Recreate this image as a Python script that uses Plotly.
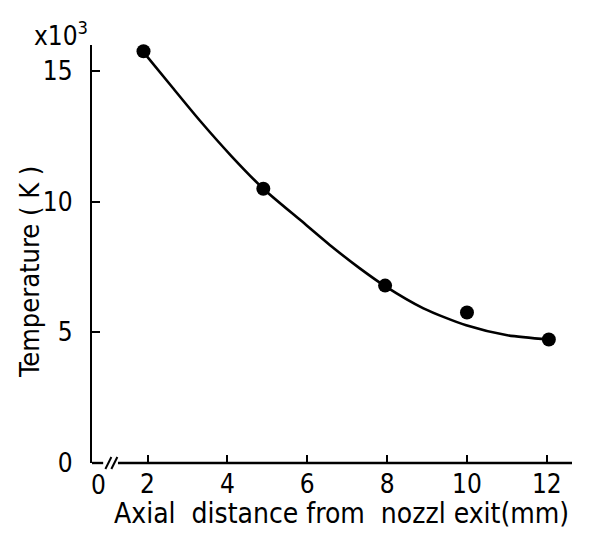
import plotly.graph_objects as go

# Measured points (axial distance mm, temperature x10^3 K)
pts_x = [1.9, 4.9, 7.95, 10.0, 12.05]
pts_y = [15.76, 10.50, 6.79, 5.76, 4.73]

# Fitted curve
curve_x = [1.94, 2.6, 3.32, 4.1, 4.90, 5.85, 6.65, 7.3, 7.93, 8.91, 9.98, 11.01, 12.05]
curve_y = [15.65, 14.42, 13.09, 11.75, 10.50, 9.27, 8.24, 7.47, 6.79, 5.92, 5.27, 4.89, 4.73]

x_ticks = [2, 4, 6, 8, 10, 12]
y_ticks = [0, 5, 10, 15]

x_title = "Axial  distance from  nozzl exit(mm)"
y_title = "Temperature ( K )"

FONT = "DejaVu Sans Condensed, Liberation Sans Narrow, Arial, sans-serif"

fig = go.Figure()
fig.add_trace(go.Scatter(x=curve_x, y=curve_y, mode="lines",
                         line=dict(color="black", width=2.6, shape="spline", smoothing=0.7),
                         showlegend=False, hoverinfo="skip"))
fig.add_trace(go.Scatter(x=pts_x, y=pts_y, mode="markers",
                         marker=dict(color="black", size=14),
                         showlegend=False, cliponaxis=False))

X0, X1 = 0.61, 12.63
fig.update_layout(
    width=591, height=539,
    margin=dict(l=92, r=19, t=45, b=76),
    paper_bgcolor="white", plot_bgcolor="white",
    font=dict(family=FONT, size=26, color="black"),
    xaxis=dict(range=[X0, X1], tickvals=x_ticks, ticks="inside", ticklen=8, tickwidth=2,
               tickcolor="black", showline=False, showgrid=False, zeroline=False,
               ticklabelstandoff=3),
    yaxis=dict(range=[0, 16.0], tickvals=y_ticks, ticks="inside", ticklen=8, tickwidth=2,
               tickcolor="black", showline=True, linewidth=2.4, linecolor="black",
               showgrid=False, zeroline=False, ticklabelstandoff=12),
)

# axis titles
fig.add_annotation(text=x_title, xref="paper", yref="paper", x=0.52, y=-0.122,
                   xanchor="center", yanchor="middle", showarrow=False, font=dict(size=28))
fig.add_annotation(text=y_title, xref="paper", yref="paper", x=-0.129, y=0.457,
                   xanchor="center", yanchor="middle", textangle=-90, showarrow=False,
                   font=dict(size=27))

# x-axis line with break
fig.add_shape(type="line", xref="x", yref="paper", x0=X0, x1=0.89, y0=0, y1=0,
              line=dict(color="black", width=2.4))
fig.add_shape(type="line", xref="x", yref="paper", x0=1.26, x1=X1, y0=0, y1=0,
              line=dict(color="black", width=2.4))
for xa in (1.02, 1.17):
    fig.add_shape(type="line", xref="x", yref="paper", xsizemode="pixel", ysizemode="pixel",
                  xanchor=xa, yanchor=0, x0=-3, x1=3, y0=-6, y1=6,
                  line=dict(color="black", width=2))

# origin label on x axis and multiplier
fig.add_annotation(text="0", xref="x", yref="paper", x=0.78, y=0, yanchor="top",
                   yshift=-5, showarrow=False, font=dict(size=26))
fig.add_annotation(text="x10<sup>3</sup>", xref="paper", yref="paper", x=-0.005, y=1.0,
                   xanchor="right", yanchor="bottom", yshift=-8, showarrow=False,
                   font=dict(size=26))

fig.write_html("out.html")
